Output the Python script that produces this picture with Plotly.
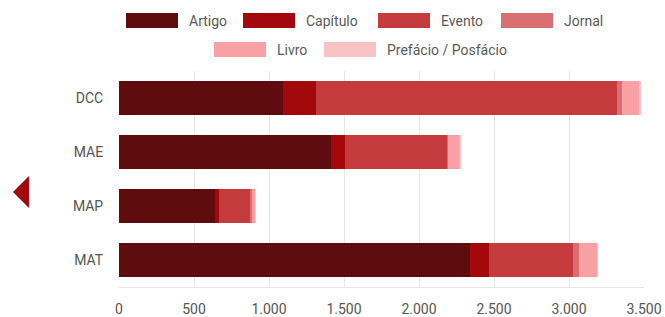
import plotly.graph_objects as go

categories = ["DCC", "MAE", "MAP", "MAT"]
series_names = ["Artigo", "Capítulo", "Evento", "Jornal", "Livro", "Prefácio / Posfácio"]
artigo = [1095, 1413, 640, 2340]
capitulo = [218, 94, 27, 127]
evento = [2007, 680, 206, 560]
jornal = [33, 8, 14, 40]
livro = [114, 78, 20, 120]
prefacio = [8, 2, 2, 6]
series_values = [artigo, capitulo, evento, jornal, livro, prefacio]
colors = ["#5e0c0e", "#a3080d", "#c53b3e", "#d96f71", "#f8a1a4", "#f7c3c5"]
x_ticks = [0, 500, 1000, 1500, 2000, 2500, 3000, 3500]

W, H = 665, 317
ML, MR, MT, MB = 119, 21, 71, 30
PW, PH = W - ML - MR, H - MT - MB


def px(x):
    return (x - ML) / PW


def py(y):
    return (H - MB - y) / PH


fig = go.Figure()
for name, vals, col in zip(series_names, series_values, colors):
    fig.add_trace(go.Bar(
        y=categories, x=vals, name=name, orientation="h",
        marker=dict(color=col, line=dict(width=0)),
    ))

# custom legend with wide swatches (layout decoration)
legend_pos = [(126, 13), (243, 13), (378, 13), (501, 13), (214, 42), (324, 42)]
shapes = []
annotations = []
for (lx, ly), name, col in zip(legend_pos, series_names, colors):
    shapes.append(dict(type="rect", xref="paper", yref="paper",
                       x0=px(lx), x1=px(lx + 52), y0=py(ly + 15), y1=py(ly),
                       fillcolor=col, line=dict(width=0), layer="above"))
    annotations.append(dict(xref="paper", yref="paper", x=px(lx + 61), y=py(ly + 7.5),
                            xanchor="left", yanchor="middle", text=name, showarrow=False,
                            font=dict(size=14, color="#5a5a5a")))

# navigation arrow
shapes.append(dict(type="path", xref="paper", yref="paper",
                   path=f"M {px(29)} {py(176)} L {px(13)} {py(192)} L {px(29)} {py(208)} Z",
                   fillcolor="#a3080d", line=dict(width=0)))

fig.update_layout(
    width=W, height=H,
    barmode="stack", bargap=0.38,
    margin=dict(l=ML, r=MR, t=MT, b=MB),
    plot_bgcolor="white", paper_bgcolor="white",
    separators=",.",
    font=dict(family="Roboto, Arial, sans-serif", size=13, color="#555555"),
    showlegend=False,
    shapes=shapes, annotations=annotations,
)
fig.update_xaxes(range=[0, 3500], tickvals=x_ticks, separatethousands=True,
                 showgrid=True, gridcolor="#e6e6e6", zeroline=False,
                 ticks="outside", ticklen=9, tickcolor="rgba(0,0,0,0)",
                 showline=True, linecolor="#e6e6e6", linewidth=1,
                 automargin=False, tickfont=dict(size=14))
fig.update_yaxes(autorange="reversed", ticks="outside", ticklen=12,
                 tickcolor="rgba(0,0,0,0)", showgrid=False, automargin=False,
                 tickfont=dict(size=14))
fig.write_html("out.html", config={"displayModeBar": False},
               post_script="document.body.style.margin='0';document.body.style.padding='0';")
